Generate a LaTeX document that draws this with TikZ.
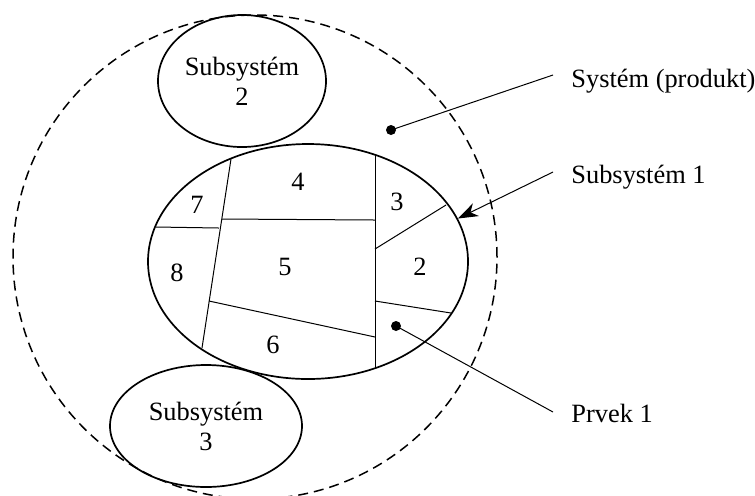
\documentclass[tikz,border=0pt]{standalone}
\usepackage{fontspec}
\setmainfont{Liberation Serif}
\usetikzlibrary{shapes.geometric,arrows.meta}
\begin{document}
\begin{tikzpicture}[x=0.5pt,y=-0.5pt,
  every node/.style={font=\fontsize{13.2}{16}\selectfont},
  subell/.style={draw,ellipse,line width=0.85pt,inner sep=0pt,align=center},
  part/.style={line width=0.5pt},
  dotmark/.style={circle,fill=black,inner sep=0pt,minimum size=5pt},
  lead/.style={line width=0.5pt},
  lbl/.style={anchor=base west,inner sep=0pt},
  num/.style={inner sep=0pt}]
\useasboundingbox (0,0) rectangle (755,495);
% outer system boundary
\node[draw,circle,dashed,dash pattern=on 5pt off 3pt,line width=0.75pt,minimum size=242pt,inner sep=0pt] (sys) at (255,257) {};
% subsystems
\node[subell,minimum width=84pt,minimum height=66pt] (s2) at (242,81) {Subsystém\\[-1pt]2};
\node[subell,minimum width=96pt,minimum height=61pt] (s3) at (206,426) {Subsystém\\[-1pt]3};
\node[subell,minimum width=160pt,minimum height=117.5pt] (s1) at (308,261.5) {};
% partition lines
\draw[part] (375,155) -- (375,368);
\draw[part] (222,219) -- (375,220);
\draw[part] (231,159) -- (202,348);
\draw[part] (156,227) -- (219,228);
\draw[part] (209,301) -- (375,337);
\draw[part] (375,249) -- (446,205);
\draw[part] (375,301) -- (451,313);
% numbers
\node[num] (n4) at (298,182) {4};
\node[num] (n7) at (197,205) {7};
\node[num] (n3) at (397,202) {3};
\node[num] (n2) at (420,267) {2};
\node[num] (n5) at (285,267) {5};
\node[num] (n8) at (177,273) {8};
\node[num] (n6) at (273,345) {6};
% labels
\node[lbl] (lsys) at (571,87) {Systém (produkt)};
\node[lbl] (ls1) at (571,183) {Subsystém 1};
\node[lbl] (lp1) at (571,422) {Prvek 1};
% dots and leaders
\node[dotmark] (dsys) at (391,130) {};
\node[dotmark] (dp1) at (396,326) {};
\coordinate (esys) at (553,75);
\coordinate (es1) at (553,172);
\coordinate (ep1) at (553,412);
\draw[lead] (dsys.center) -- (esys);
\draw[lead] (dp1.center) -- (ep1);
\draw[lead,-{Stealth[length=10pt,width=7pt,inset=3pt]}] (es1) -- (s1.16.6);
\end{tikzpicture}
\end{document}
